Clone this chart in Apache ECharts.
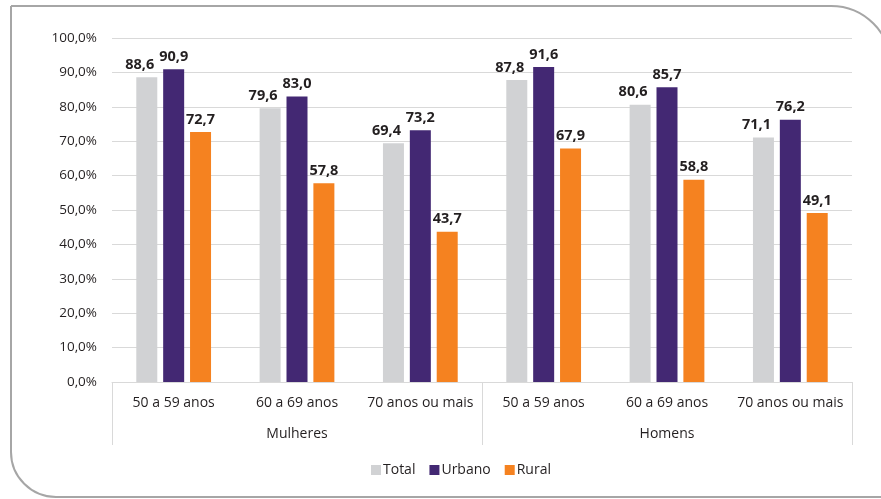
<!DOCTYPE html>
<html>
<head>
<meta charset="utf-8">
<script src="https://cdn.jsdelivr.net/npm/echarts@6/dist/echarts.min.js"></script>
<style>
  html, body { margin: 0; padding: 0; background: #fff; }
  #chart { width: 881px; height: 499px; }
</style>
</head>
<body>
<div id="chart"></div>
<script>
// faixas etarias e grupos
var faixas = ['50 a 59 anos', '60 a 69 anos', '70 anos ou mais', '50 a 59 anos', '60 a 69 anos', '70 anos ou mais']
var grupos = ['Mulheres', 'Homens']
var total = [88.6, 79.6, 69.4, 87.8, 80.6, 71.1]
var urbano = [90.9, 83.0, 73.2, 91.6, 85.7, 76.2]
var rural = [72.7, 57.8, 43.7, 67.9, 58.8, 49.1]

var fonte = '"Open Sans", "Noto Sans", sans-serif'
var corTexto = '#231f20'
var corLinha = '#d9d9d9'

function virgula(v, casas) {
  return v.toFixed(casas).replace('.', ',')
}

function serie(nome, dados, cor, desloc) {
  return {
    name: nome,
    type: 'bar',
    data: dados,
    barWidth: 21,
    barGap: '28%',
    itemStyle: { color: cor },
    label: {
      show: true,
      position: 'top',
      distance: 5,
      offset: [desloc, 0],
      fontFamily: fonte,
      fontSize: 14.5,
      fontWeight: 'bold',
      color: corTexto,
      formatter: function (p) { return virgula(p.value, 1) }
    }
  }
}

var chart = echarts.init(document.getElementById('chart'))
chart.setOption({
  animation: false,
  textStyle: { fontFamily: fonte },
  graphic: [{
    type: 'rect',
    shape: { x: 11, y: 6, width: 880, height: 491, r: [0, 60, 0, 45] },
    style: { fill: 'none', stroke: '#a6a6a6', lineWidth: 2 },
    silent: true
  }],
  grid: { left: 112, right: 29, top: 38, bottom: 117 },
  legend: {
    top: 458,
    left: 366,
    itemWidth: 10,
    itemHeight: 10,
    itemGap: 14,
    icon: 'rect',
    textStyle: { fontFamily: fonte, fontSize: 14, color: corTexto, padding: [0, 0, 0, -3] },
    data: ['Total', 'Urbano', 'Rural']
  },
  xAxis: [{
    type: 'category',
    data: faixas,
    axisLine: { lineStyle: { color: corLinha } },
    axisTick: { show: false },
    axisLabel: { fontFamily: fonte, fontSize: 14, color: corTexto, margin: 14, interval: 0 }
  }, {
    type: 'category',
    data: grupos,
    position: 'bottom',
    axisLine: { show: false },
    axisTick: { show: true, length: 63, lineStyle: { color: corLinha } },
    axisLabel: { fontFamily: fonte, fontSize: 14, color: corTexto, margin: 45 }
  }],
  yAxis: {
    type: 'value',
    min: 0,
    max: 100,
    interval: 10,
    axisLine: { show: false },
    axisTick: { show: false },
    splitLine: { lineStyle: { color: corLinha } },
    axisLabel: {
      fontFamily: fonte, fontSize: 13.5, color: corTexto, margin: 15,
      formatter: function (v) { return virgula(v, 1) + '%' }
    }
  },
  series: [
    serie('Total', total, '#d1d2d4', -7),
    serie('Urbano', urbano, '#432873', 0),
    serie('Rural', rural, '#f58220', 0)
  ]
})
</script>
</body>
</html>
